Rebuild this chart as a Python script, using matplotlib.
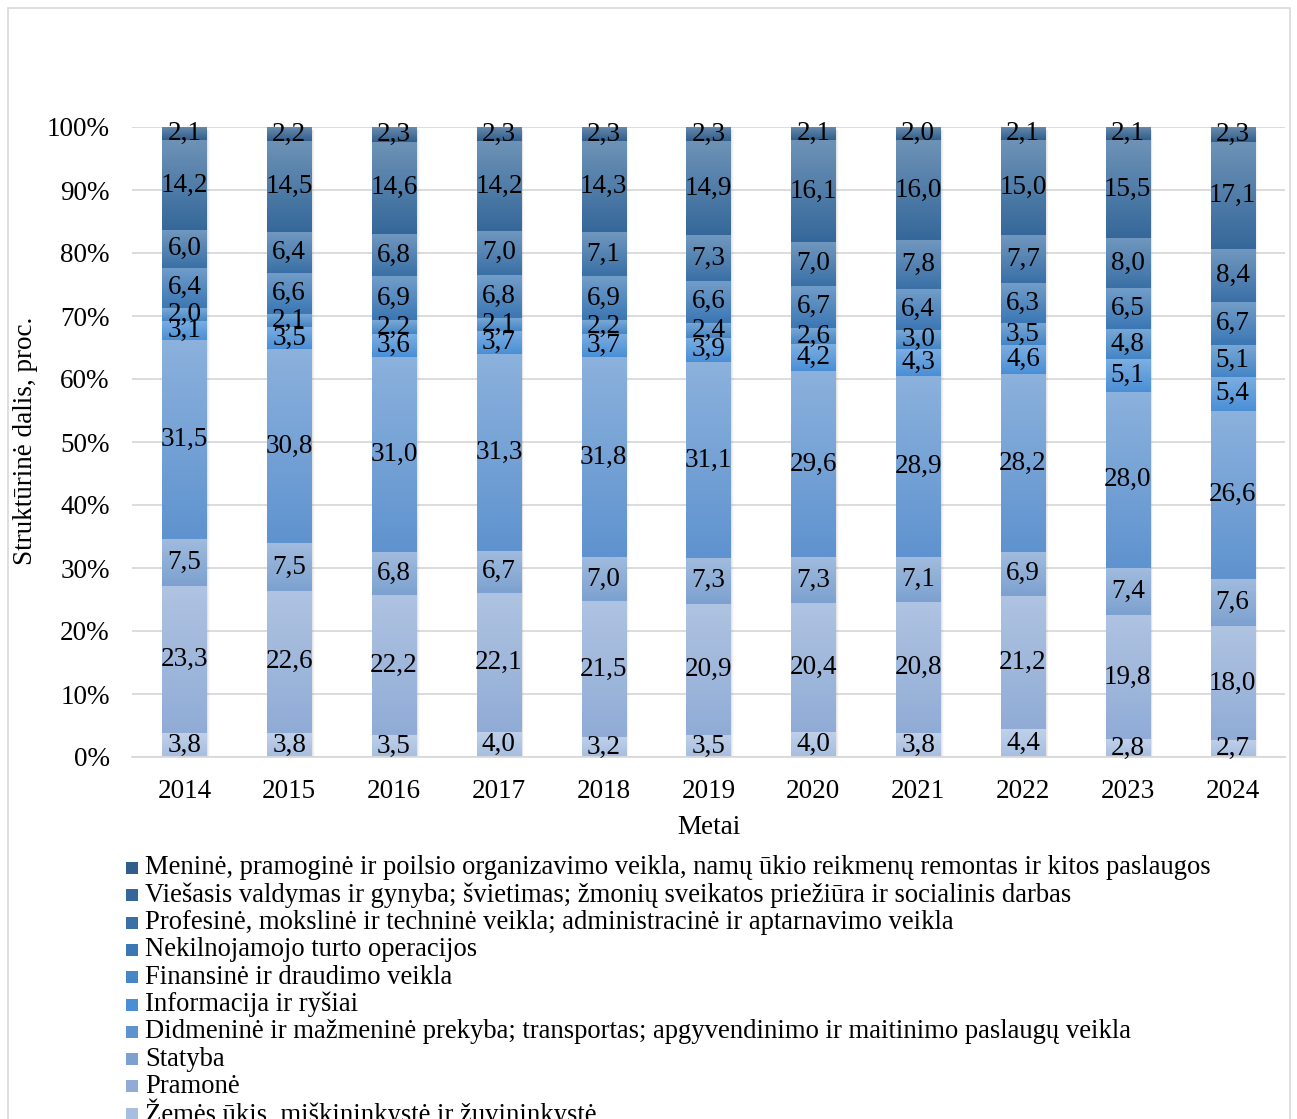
import numpy as np
import matplotlib
matplotlib.use("Agg")
import matplotlib.pyplot as plt
from matplotlib.patches import Rectangle
from matplotlib.colors import to_rgb

plt.rcParams['font.family'] = ['Liberation Serif', 'DejaVu Serif']

years = ['2014', '2015', '2016', '2017', '2018', '2019', '2020', '2021', '2022', '2023', '2024']

zemes = [3.8, 3.8, 3.5, 4.0, 3.2, 3.5, 4.0, 3.8, 4.4, 2.8, 2.7]
pramone = [23.3, 22.6, 22.2, 22.1, 21.5, 20.9, 20.4, 20.8, 21.2, 19.8, 18.0]
statyba = [7.5, 7.5, 6.8, 6.7, 7.0, 7.3, 7.3, 7.1, 6.9, 7.4, 7.6]
didmenine = [31.5, 30.8, 31.0, 31.3, 31.8, 31.1, 29.6, 28.9, 28.2, 28.0, 26.6]
informacija = [3.1, 3.5, 3.6, 3.7, 3.7, 3.9, 4.2, 4.3, 4.6, 5.1, 5.4]
finansine = [2.0, 2.1, 2.2, 2.1, 2.2, 2.4, 2.6, 3.0, 3.5, 4.8, 5.1]
nekilnojamojo = [6.4, 6.6, 6.9, 6.8, 6.9, 6.6, 6.7, 6.4, 6.3, 6.5, 6.7]
profesine = [6.0, 6.4, 6.8, 7.0, 7.1, 7.3, 7.0, 7.8, 7.7, 8.0, 8.4]
viesasis = [14.2, 14.5, 14.6, 14.2, 14.3, 14.9, 16.1, 16.0, 15.0, 15.5, 17.1]
menine = [2.1, 2.2, 2.3, 2.3, 2.3, 2.3, 2.1, 2.0, 2.1, 2.1, 2.3]

labels = [
    'Žemės ūkis, miškininkystė ir žuvininkystė',
    'Pramonė',
    'Statyba',
    'Didmeninė ir mažmeninė prekyba; transportas; apgyvendinimo ir maitinimo paslaugų veikla',
    'Informacija ir ryšiai',
    'Finansinė ir draudimo veikla',
    'Nekilnojamojo turto operacijos',
    'Profesinė, mokslinė ir techninė veikla; administracinė ir aptarnavimo veikla',
    'Viešasis valdymas ir gynyba; švietimas; žmonių sveikatos priežiūra ir socialinis darbas',
    'Meninė, pramoginė ir poilsio organizavimo veikla, namų ūkio reikmenų remontas ir kitos paslaugos',
]
series = [zemes, pramone, statyba, didmenine, informacija, finansine,
          nekilnojamojo, profesine, viesasis, menine]

# bottom (darker) colour of each segment gradient
base_colors = ['#a7bee0', '#90acd6', '#7ca1d0', '#5f93cf', '#4a8fd6',
               '#4586c6', '#3b77b4', '#3a70a6', '#35689a', '#305e8c']

FS = 19.5

data = np.array(series)
shares = data / data.sum(axis=0) * 100

fig = plt.figure(figsize=(12.97, 11.19), dpi=100)
W, H = 1297, 1119
ax = fig.add_axes([132 / W, 1 - 757 / H, (1285 - 132) / W, (757 - 127) / H])

x = np.arange(len(years))
bw = 0.42

# soft shadow behind bars
for k, a in enumerate([0.10, 0.07, 0.04]):
    ax.bar(x + 0.012 + 0.008 * k, 100.4 + 0.3 * k, bw + 0.01, bottom=-0.8 - 0.3 * k,
           color='#808080', alpha=a, linewidth=0, zorder=1.5)

bottom = np.zeros(len(years))
for i, vals in enumerate(shares):
    bars = ax.bar(x, vals, bw, bottom=bottom, color=base_colors[i], linewidth=0,
                  zorder=2, label=labels[i])
    c0 = np.array(to_rgb(base_colors[i]))
    c1 = c0 + (1 - c0) * 0.28
    grad = np.linspace(0, 1, 64)[:, None]
    img = (c0[None, :] * (1 - grad) + c1[None, :] * grad)[:, None, :]
    for p in bars:
        bx, by, bwid, bh = p.get_x(), p.get_y(), p.get_width(), p.get_height()
        im = ax.imshow(img, extent=[bx, bx + bwid, by, by + bh], origin='lower',
                       aspect='auto', zorder=2.1, interpolation='bilinear')
        im.set_clip_path(p)
    for j, p in enumerate(bars):
        ax.text(p.get_x() + p.get_width() / 2, bottom[j] + vals[j] / 2,
                f'{data[i][j]:.1f}'.replace('.', ','), ha='center', va='center',
                fontsize=FS, color='black', zorder=5)
    bottom += vals

ax.set_xlim(-0.5, len(years) - 0.5)
ax.set_ylim(0, 100)
ax.set_yticks(np.arange(0, 101, 10))
ax.set_yticklabels([f'{v}%' for v in range(0, 101, 10)])
ax.set_xticks(x)
ax.set_xticklabels(years)
ax.tick_params(axis='both', length=0, labelsize=FS)
ax.tick_params(axis='x', pad=16)
ax.tick_params(axis='y', pad=16)
ax.grid(axis='y', color='#d9d9d9', linewidth=1.3, zorder=0)
ax.set_axisbelow(True)
for s in ['top', 'right', 'left']:
    ax.spines[s].set_visible(False)
ax.spines['bottom'].set_color('#d9d9d9')
ax.spines['bottom'].set_linewidth(1.3)

fig.text(25 / W, 1 - 441 / H, 'Struktūrinė dalis, proc.', fontsize=FS,
         rotation=90, ha='center', va='center')
fig.text(709 / W, 1 - 827 / H, 'Metai', fontsize=FS, ha='center', va='center')

# legend (top entry = top segment)
y0 = 868
for k, i in enumerate(range(len(series) - 1, -1, -1)):
    yc = y0 + k * 27.3
    fig.patches.append(Rectangle((126 / W, 1 - (yc + 6) / H), 12 / W, 12 / H,
                                 transform=fig.transFigure, facecolor=base_colors[i],
                                 edgecolor='none'))
    fig.text(145 / W, 1 - yc / H, labels[i], fontsize=19.2, va='center', ha='left')

# chart border
fig.patches.append(Rectangle((8 / W, -0.05), 1282 / W, 1.05 - 8 / H,
                             transform=fig.transFigure, facecolor='none',
                             edgecolor='#d9d9d9', linewidth=1.2))

fig.savefig('out.png', dpi=100)
